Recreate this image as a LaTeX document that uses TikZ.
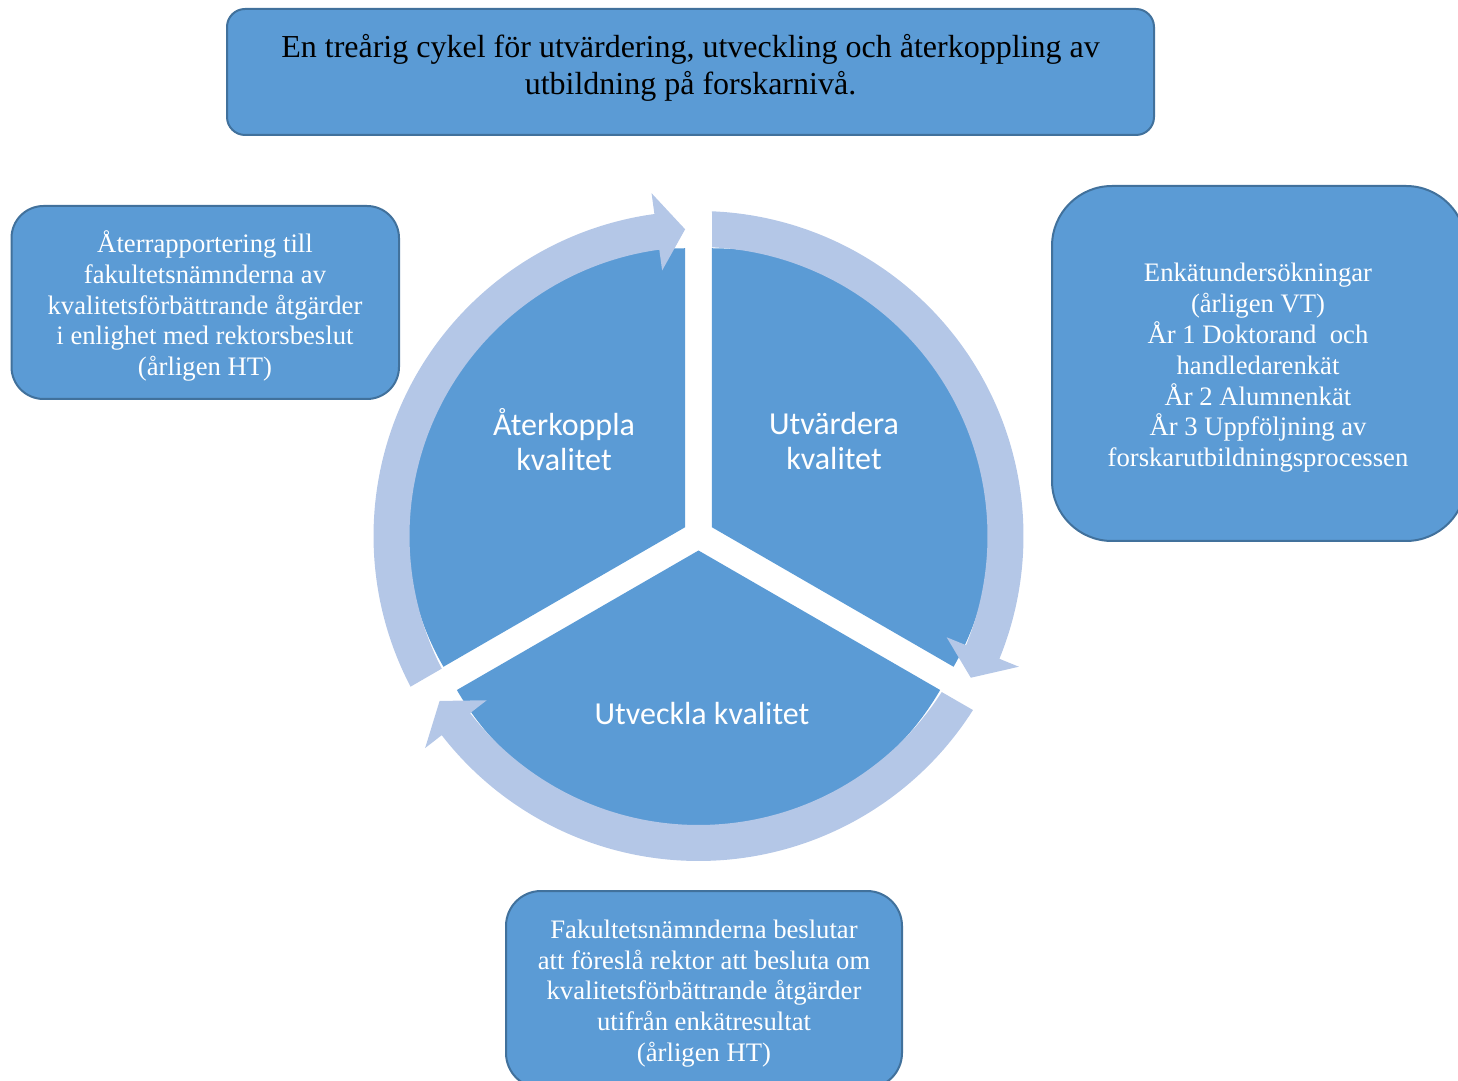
\documentclass[tikz,border=0pt]{standalone}
\usepackage{fontspec}
\setmainfont{Liberation Serif}
\newfontfamily\calibfont{Carlito}
\definecolor{secblue}{HTML}{5B9BD5}
\definecolor{ringblue}{HTML}{B4C7E7}
\definecolor{boxedge}{HTML}{41719C}
\begin{document}
\begin{tikzpicture}[x=1pt,y=1pt,
  infobox/.style={draw=boxedge, line width=2pt, fill=secblue, rounded corners=#1, inner sep=0pt},
  boxtext/.style={text=white, align=center, inner sep=0pt, font=\fontsize{26.67}{30.8}\selectfont},
  titletext/.style={text=black, align=center, inner sep=0pt, font=\fontsize{32}{37}\selectfont},
  seclabel/.style={text=white, align=center, inner sep=0pt, font=\calibfont\fontsize{32}{35}\selectfont},
  sector/.style={fill=secblue},
  ringarrow/.style={fill=ringblue},
]
\useasboundingbox (0,0) rectangle (1458,1080);

% boxes
\node[infobox=18pt, minimum width=927pt, minimum height=126pt] (titlebox) at (690.5,1008) {};
\node[infobox=32pt, minimum width=387.5pt, minimum height=193pt] (leftbox) at (205.25,777.5) {};
\node[infobox=60pt, minimum width=414pt, minimum height=355pt] (rightbox) at (1259,716.5) {};
\node[infobox=35pt, minimum width=396pt, minimum height=197pt] (bottombox) at (704,90.5) {};

\node[titletext] (titletxt) at (690.5,1012.5) {En treårig cykel för utvärdering, utveckling och återkoppling av\\utbildning på forskarnivå.};
\node[boxtext] (lefttxt) at (205,774) {Återrapportering till\\fakultetsnämnderna av\\kvalitetsförbättrande åtgärder\\i enlighet med rektorsbeslut\\(årligen HT)};
\node[boxtext] (righttxt) at (1258,712) {Enkätundersökningar\\(årligen VT)\\År 1 Doktorand\ \ och\\handledarenkät\\År 2 Alumnenkät\\År 3 Uppföljning av\\forskarutbildningsprocessen};
\node[boxtext] (bottomtxt) at (704,86.5) {Fakultetsnämnderna beslutar\\att föreslå rektor att besluta om\\kvalitetsförbättrande åtgärder\\utifrån enkätresultat\\(årligen HT)};

% sectors
\begin{scope}[shift={(698.5,545)}]
  \fill[sector] (30:15.5) -- ++(90:279) arc[start angle=90, end angle=-30, radius=279] -- cycle;
  \fill[sector] (150:15.5) -- ++(90:279) arc[start angle=90, end angle=210, radius=279] -- cycle;
  \fill[sector] (270:15.5) -- ++(210:279) arc[start angle=210, end angle=330, radius=279] -- cycle;
\end{scope}

% ring arrows
\begin{scope}[shift={(698.5,544)}]
  \foreach \g in {90,-30,210} {
    \fill[ringarrow] ({\g-2.38}:325) arc[start angle={\g-2.38}, end angle={\g-112.2}, radius=325]
      -- ({\g-112.2}:346) -- ({\g-117.5}:307) -- ({\g-112.2}:268) -- ({\g-112.2}:289)
      arc[start angle={\g-112.2}, end angle={\g-2.68}, radius=289] -- cycle;
  }
\end{scope}

\node[seclabel] (reflect) at (564,640) {Återkoppla\\kvalitet};
\node[seclabel] (evaluate) at (834,638.5) {Utvärdera\\kvalitet};
\node[seclabel] (develop) at (702,366) {Utveckla kvalitet};
\end{tikzpicture}
\end{document}
